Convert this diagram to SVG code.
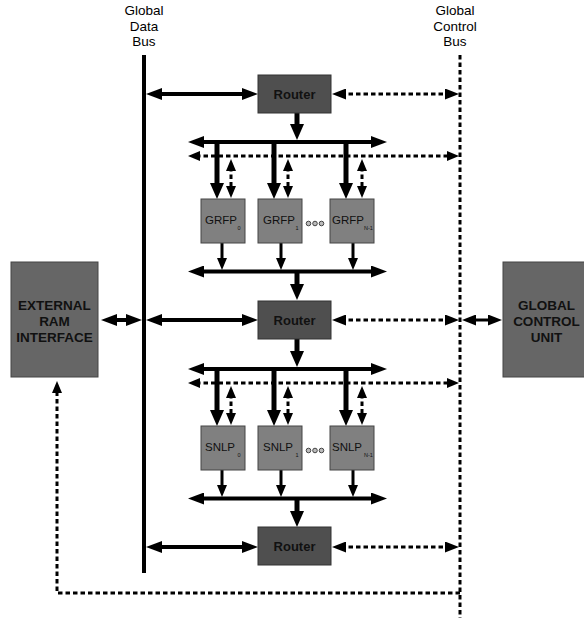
<svg xmlns="http://www.w3.org/2000/svg" width="584" height="618" viewBox="0 0 584 618">
<style>
.lbl{font-family:"Liberation Sans",Arial,sans-serif;font-size:13.5px;fill:#000;text-anchor:middle}
.bt{font-family:"Liberation Sans",Arial,sans-serif;font-size:13.5px;font-weight:bold;fill:#111;text-anchor:middle}
.rt{font-family:"Liberation Sans",Arial,sans-serif;font-size:13px;font-weight:bold;fill:#111;text-anchor:middle}
.pt{font-family:"Liberation Sans",Arial,sans-serif;font-size:11.5px;fill:#111}
.sub{font-family:"Liberation Sans",Arial,sans-serif;font-size:5.5px;fill:#111}
.router{fill:#4f4f4f;stroke:#333;stroke-width:1}
.big{fill:#666;stroke:#444;stroke-width:1}
.pe{fill:#808080;stroke:#444;stroke-width:1}
.dot{fill:#bbb;stroke:#444;stroke-width:1}
.s4{stroke:#000;stroke-width:4;fill:none}
.s5{stroke:#000;stroke-width:5;fill:none}
.s3{stroke:#000;stroke-width:3;fill:none}
.d3{stroke:#000;stroke-width:3;fill:none;stroke-dasharray:4.5 3}
</style>
<defs>
<marker id="a1" viewBox="0 0 16 12" markerWidth="16" markerHeight="12" refX="6" refY="6" orient="auto-start-reverse" markerUnits="userSpaceOnUse"><path d="M0,0 L16,6 L0,12 z" fill="#000"/></marker>
<marker id="a2" viewBox="0 0 12 10" markerWidth="12" markerHeight="10" refX="4" refY="5" orient="auto-start-reverse" markerUnits="userSpaceOnUse"><path d="M0,0 L12,5 L0,10 z" fill="#000"/></marker>
<marker id="a4" viewBox="0 0 16 14" markerWidth="16" markerHeight="14" refX="6" refY="7" orient="auto-start-reverse" markerUnits="userSpaceOnUse"><path d="M0,0 L16,7 L0,14 z" fill="#000"/></marker>
<marker id="a5" viewBox="0 0 14 11" markerWidth="14" markerHeight="11" refX="5" refY="5.5" orient="auto-start-reverse" markerUnits="userSpaceOnUse"><path d="M0,0 L14,5.5 L0,11 z" fill="#000"/></marker>
</defs>

<g id="labels">
<text class="lbl" x="144" y="15">Global</text>
<text class="lbl" x="144" y="30.5">Data</text>
<text class="lbl" x="144" y="46">Bus</text>
<text class="lbl" x="455" y="15">Global</text>
<text class="lbl" x="455" y="30.5">Control</text>
<text class="lbl" x="455" y="46">Bus</text>
</g>

<g id="connectors">
<!-- buses -->
<line class="s4" x1="144" y1="55" x2="144" y2="573"/>
<line class="d3" x1="460" y1="55" x2="460" y2="618"/>
<!-- router 1 -->
<line class="s4" x1="156" y1="94" x2="248" y2="94" marker-start="url(#a1)" marker-end="url(#a1)"/>
<line class="d3" x1="341" y1="94" x2="450" y2="94" marker-start="url(#a5)" marker-end="url(#a5)"/>
<line class="s5" x1="297" y1="113" x2="297" y2="130" marker-end="url(#a4)"/>
<!-- group 1 -->
<line class="s4" x1="198" y1="142" x2="377" y2="142" marker-start="url(#a1)" marker-end="url(#a1)"/>
<line class="d3" x1="196" y1="156" x2="451" y2="156" marker-start="url(#a2)" marker-end="url(#a2)"/>
<line class="s5" x1="217" y1="142" x2="217" y2="189" marker-end="url(#a4)"/>
<line class="s5" x1="274" y1="142" x2="274" y2="189" marker-end="url(#a4)"/>
<line class="s5" x1="346" y1="142" x2="346" y2="189" marker-end="url(#a4)"/>
<line class="d3" x1="231" y1="167" x2="231" y2="190" marker-start="url(#a2)" marker-end="url(#a2)"/>
<line class="d3" x1="288" y1="167" x2="288" y2="190" marker-start="url(#a2)" marker-end="url(#a2)"/>
<line class="d3" x1="362" y1="167" x2="362" y2="190" marker-start="url(#a2)" marker-end="url(#a2)"/>
<line class="s3" x1="222" y1="243" x2="222" y2="262" marker-end="url(#a2)"/>
<line class="s3" x1="281" y1="243" x2="281" y2="262" marker-end="url(#a2)"/>
<line class="s3" x1="353" y1="243" x2="353" y2="262" marker-end="url(#a2)"/>
<line class="s4" x1="198" y1="271.5" x2="377" y2="271.5" marker-start="url(#a1)" marker-end="url(#a1)"/>
<line class="s5" x1="297" y1="273" x2="297" y2="290" marker-end="url(#a4)"/>
<!-- router 2 -->
<line class="s4" x1="111" y1="320" x2="132" y2="320" marker-start="url(#a1)" marker-end="url(#a1)"/>
<line class="s4" x1="156" y1="320" x2="248" y2="320" marker-start="url(#a1)" marker-end="url(#a1)"/>
<line class="d3" x1="341" y1="320" x2="450" y2="320" marker-start="url(#a5)" marker-end="url(#a5)"/>
<line class="s3" x1="471" y1="320" x2="493" y2="320" marker-start="url(#a5)" marker-end="url(#a5)"/>
<line class="s5" x1="297" y1="339" x2="297" y2="357" marker-end="url(#a4)"/>
<!-- group 2 -->
<line class="s4" x1="198" y1="369" x2="377" y2="369" marker-start="url(#a1)" marker-end="url(#a1)"/>
<line class="d3" x1="196" y1="383" x2="451" y2="383" marker-start="url(#a2)" marker-end="url(#a2)"/>
<line class="s5" x1="217" y1="369" x2="217" y2="416" marker-end="url(#a4)"/>
<line class="s5" x1="274" y1="369" x2="274" y2="416" marker-end="url(#a4)"/>
<line class="s5" x1="346" y1="369" x2="346" y2="416" marker-end="url(#a4)"/>
<line class="d3" x1="231" y1="394" x2="231" y2="417" marker-start="url(#a2)" marker-end="url(#a2)"/>
<line class="d3" x1="288" y1="394" x2="288" y2="417" marker-start="url(#a2)" marker-end="url(#a2)"/>
<line class="d3" x1="362" y1="394" x2="362" y2="417" marker-start="url(#a2)" marker-end="url(#a2)"/>
<line class="s3" x1="222" y1="470" x2="222" y2="489" marker-end="url(#a2)"/>
<line class="s3" x1="281" y1="470" x2="281" y2="489" marker-end="url(#a2)"/>
<line class="s3" x1="353" y1="470" x2="353" y2="489" marker-end="url(#a2)"/>
<line class="s4" x1="198" y1="498.5" x2="377" y2="498.5" marker-start="url(#a1)" marker-end="url(#a1)"/>
<line class="s5" x1="297" y1="500" x2="297" y2="517" marker-end="url(#a4)"/>
<!-- router 3 -->
<line class="s4" x1="156" y1="547" x2="248" y2="547" marker-start="url(#a1)" marker-end="url(#a1)"/>
<line class="d3" x1="341" y1="547" x2="450" y2="547" marker-start="url(#a5)" marker-end="url(#a5)"/>
<!-- loop back to external RAM -->
<path class="d3" d="M460,593 H57 V389" marker-end="url(#a2)"/>
</g>

<g id="router1"><rect class="router" x="258" y="75" width="73" height="38"/><text class="rt" x="294.5" y="99">Router</text></g>
<g id="router2"><rect class="router" x="258" y="301" width="73" height="38"/><text class="rt" x="294.5" y="325">Router</text></g>
<g id="router3"><rect class="router" x="258" y="527" width="73" height="38"/><text class="rt" x="294.5" y="551">Router</text></g>

<g id="ext-ram"><rect class="big" x="11" y="262" width="87" height="115"/>
<text class="bt" x="54.5" y="309.5">EXTERNAL</text><text class="bt" x="54.5" y="326">RAM</text><text class="bt" x="54.5" y="342">INTERFACE</text></g>
<g id="gcu"><rect class="big" x="503" y="262" width="82" height="115"/>
<text class="bt" x="546.5" y="309.5">GLOBAL</text><text class="bt" x="546.5" y="326">CONTROL</text><text class="bt" x="546.5" y="342">UNIT</text></g>

<g id="grfp0"><rect class="pe" x="201" y="199" width="44" height="44"/><text class="pt" x="205" y="224">GRFP</text><text class="sub" x="237.5" y="230">0</text></g>
<g id="grfp1"><rect class="pe" x="258" y="199" width="44" height="44"/><text class="pt" x="263" y="224">GRFP</text><text class="sub" x="295.5" y="230">1</text></g>
<g id="grfpn"><rect class="pe" x="330" y="199" width="44" height="44"/><text class="pt" x="332" y="224">GRFP</text><text class="sub" x="364" y="230">N-1</text></g>
<g id="dots1"><circle class="dot" cx="308.5" cy="223.5" r="2.3"/><circle class="dot" cx="315" cy="223.5" r="2.3"/><circle class="dot" cx="321.5" cy="223.5" r="2.3"/></g>

<g id="snlp0"><rect class="pe" x="201" y="426" width="44" height="44"/><text class="pt" x="205" y="451">SNLP</text><text class="sub" x="237.5" y="457">0</text></g>
<g id="snlp1"><rect class="pe" x="258" y="426" width="44" height="44"/><text class="pt" x="263" y="451">SNLP</text><text class="sub" x="295.5" y="457">1</text></g>
<g id="snlpn"><rect class="pe" x="330" y="426" width="44" height="44"/><text class="pt" x="332" y="451">SNLP</text><text class="sub" x="364" y="457">N-1</text></g>
<g id="dots2"><circle class="dot" cx="308.5" cy="450.5" r="2.3"/><circle class="dot" cx="315" cy="450.5" r="2.3"/><circle class="dot" cx="321.5" cy="450.5" r="2.3"/></g>
</svg>
